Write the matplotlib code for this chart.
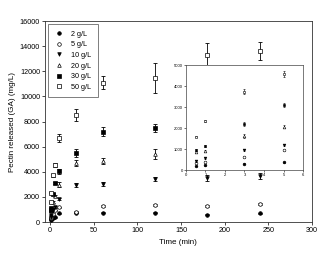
import numpy as np
import matplotlib
matplotlib.use('Agg')
import matplotlib.pyplot as plt

plt.rcParams['font.family'] = ['Liberation Sans', 'DejaVu Sans']

# sampling times (min)
t = [0.5, 1, 3, 5, 10, 30, 60, 120, 180, 240]
labels = ['2 g/L', '5 g/L', '10 g/L', '20 g/L', '30 g/L', '50 g/L']

# pectin released (mg/L) and error bars
c2 = [190, 220, 300, 370, 690, 750, 720, 730, 590, 690]
e2 = [20, 20, 30, 30, 40, 40, 40, 40, 60, 50]
c5 = [320, 380, 640, 950, 1170, 780, 1270, 1350, 1280, 1430]
e5 = [30, 30, 50, 40, 60, 60, 60, 60, 60, 60]
c10 = [430, 560, 940, 1190, 1830, 2930, 3030, 3420, 3530, 3660]
e10 = [30, 40, 50, 60, 100, 150, 150, 150, 250, 250]
c20 = [850, 920, 1620, 2060, 2950, 4670, 4860, 5440, 5600, 5800]
e20 = [40, 50, 80, 80, 200, 250, 250, 400, 300, 300]
c30 = [950, 1140, 2200, 3100, 4060, 5480, 7190, 7480, 7800, 8000]
e30 = [50, 60, 80, 100, 200, 300, 350, 350, 300, 300]
c50 = [1590, 2330, 3730, 4560, 6700, 8520, 11100, 11450, 13300, 13600]
e50 = [40, 60, 120, 150, 300, 500, 500, 1200, 950, 700]

vals = [c2, c5, c10, c20, c30, c50]
errs = [e2, e5, e10, e20, e30, e50]
mk = ['o', 'o', 'v', '^', 's', 's']
fc = ['k', 'w', 'k', 'w', 'k', 'w']

fig = plt.figure(figsize=(3.2, 2.69), dpi=100)
ax = fig.add_axes([0.1406, 0.1747, 0.834, 0.747])

hs = []
for i in range(6):
    ax.errorbar(t, vals[i], yerr=errs[i], fmt='none', ecolor='k', elinewidth=0.6,
                capsize=1.6, capthick=0.6, zorder=2)
    h, = ax.plot(t, vals[i], ls='none', marker=mk[i], ms=2.6, mfc=fc[i], mec='k',
                 mew=0.5, zorder=3)
    hs.append(h)

ax.set_xlim(-6, 300)
ax.set_ylim(0, 16000)
ax.set_xticks(range(0, 301, 50))
ax.set_yticks(range(0, 16001, 2000))
ax.tick_params(labelsize=5.2, length=2, width=0.5, pad=1.5)
for s in ax.spines.values():
    s.set_linewidth(0.6)
    s.set_color('#333333')
ax.set_xlabel('Time (min)', fontsize=5.8, labelpad=4)
ax.set_ylabel('Pectin released (GA) (mg/L)', fontsize=5.8, labelpad=3)

leg = ax.legend(hs, labels, loc='upper left', fontsize=5.2, frameon=True,
                fancybox=False, borderpad=0.9, labelspacing=0.5,
                handletextpad=1.0, handlelength=1.3, borderaxespad=0.4,
                bbox_to_anchor=(0.0, 1.0))
leg.get_frame().set_edgecolor('#444444')
leg.get_frame().set_linewidth(0.6)

# inset: first 5 minutes
ins = fig.add_axes([0.581, 0.368, 0.366, 0.390])
ins.set_zorder(5)
ins.set_facecolor('white')
for i in range(6):
    ins.errorbar(t[:4], vals[i][:4], yerr=errs[i][:4], fmt='none', ecolor='k',
                 elinewidth=0.4, capsize=1.0, capthick=0.4, zorder=2)
    ins.plot(t[:4], vals[i][:4], ls='none', marker=mk[i], ms=2.0, mfc=fc[i],
             mec='k', mew=0.4, zorder=3)
ins.set_xlim(0, 6)
ins.set_ylim(0, 5000)
ins.set_xticks(range(0, 7))
ins.set_yticks(range(0, 5001, 1000))
ins.tick_params(labelsize=3, length=1.2, width=0.4, pad=1)
for s in ins.spines.values():
    s.set_linewidth(0.5)
    s.set_color('#444444')

fig.savefig('out.png', dpi=100)
